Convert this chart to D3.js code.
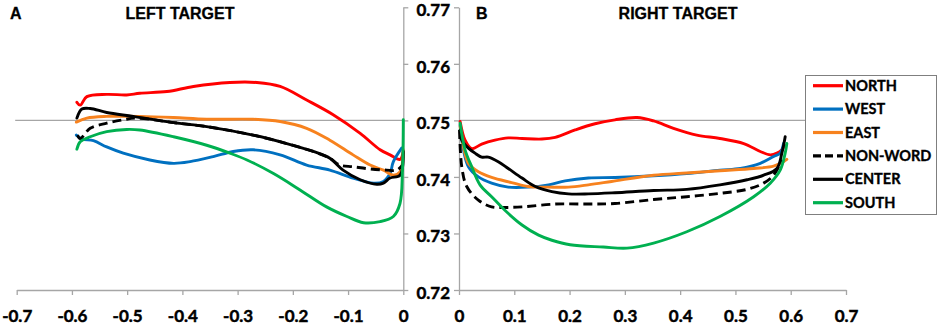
<!DOCTYPE html>
<html><head><meta charset="utf-8">
<script src="https://cdn.jsdelivr.net/npm/d3@7"></script>
<style>body{margin:0;background:#fff}svg{display:block}</style>
</head><body>
<svg id="c" width="945" height="325"></svg>
<script>
// ---- data ----
const seriesNames = ["NORTH","WEST","EAST","NON-WORD","CENTER","SOUTH"];
const seriesColors = ["#ff0000","#0070c0","#f7821e","#000000","#000000","#00b050"];
const seriesDashed = [false,false,false,true,false,false];
const yTicks = [0.72,0.73,0.74,0.75,0.76,0.77];
const leftXTicks = [-0.7,-0.6,-0.5,-0.4,-0.3,-0.2,-0.1,0];
const rightXTicks = [0,0.1,0.2,0.3,0.4,0.5,0.6,0.7];
const referenceValue = 0.75;

const leftNorth = [[-0.591,0.7532],[-0.585,0.7527],[-0.573,0.7542],[-0.537,0.7546],[-0.501,0.7545],[-0.477,0.7548],[-0.428,0.7551],[-0.380,0.7560],[-0.314,0.7567],[-0.265,0.7567],[-0.223,0.7560],[-0.175,0.7536],[-0.127,0.7510],[-0.078,0.7477],[-0.042,0.7448],[-0.024,0.7439],[-0.006,0.7431],[0,0.7445]];
const leftWest = [[-0.592,0.7474],[-0.582,0.7467],[-0.561,0.7464],[-0.537,0.7453],[-0.507,0.7442],[-0.459,0.7430],[-0.416,0.7424],[-0.386,0.7427],[-0.344,0.7436],[-0.308,0.7445],[-0.272,0.7448],[-0.223,0.7439],[-0.175,0.7421],[-0.133,0.7412],[-0.091,0.7398],[-0.054,0.7389],[-0.036,0.7392],[-0.024,0.7406],[-0.018,0.7427],[-0.003,0.7451]];
const leftEast = [[-0.592,0.7497],[-0.573,0.7504],[-0.537,0.7507],[-0.477,0.7507],[-0.416,0.7505],[-0.356,0.7502],[-0.272,0.7502],[-0.223,0.7498],[-0.175,0.7486],[-0.133,0.7465],[-0.091,0.7439],[-0.060,0.7421],[-0.036,0.7412],[-0.018,0.7403],[-0.006,0.7409],[0,0.7448]];
const leftNonWord = [[-0.590,0.7474],[-0.585,0.7468],[-0.567,0.7486],[-0.537,0.7495],[-0.507,0.7501],[-0.483,0.7504],[-0.416,0.7496],[-0.356,0.7489],[-0.272,0.7474],[-0.211,0.7459],[-0.163,0.7445],[-0.133,0.7433],[-0.115,0.7421],[-0.091,0.7418],[-0.060,0.7414],[-0.030,0.7412],[-0.012,0.7412],[-0.001,0.7421]];
const leftCenter = [[-0.591,0.7504],[-0.582,0.7520],[-0.567,0.7521],[-0.537,0.7514],[-0.489,0.7507],[-0.416,0.7496],[-0.356,0.7489],[-0.272,0.7474],[-0.211,0.7459],[-0.163,0.7445],[-0.133,0.7433],[-0.109,0.7412],[-0.078,0.7395],[-0.048,0.7387],[-0.036,0.7389],[-0.024,0.7398],[-0.006,0.7403],[0,0.7445]];
const leftSouth = [[-0.591,0.7449],[-0.585,0.7462],[-0.567,0.7471],[-0.537,0.7480],[-0.501,0.7484],[-0.477,0.7483],[-0.416,0.7471],[-0.356,0.7456],[-0.314,0.7442],[-0.283,0.7430],[-0.235,0.7406],[-0.187,0.7377],[-0.139,0.7347],[-0.102,0.7330],[-0.072,0.7319],[-0.042,0.7321],[-0.018,0.7330],[-0.006,0.7353],[-0.0015,0.7412],[0,0.7501]];

const rightNorth = [[0.002,0.7498],[0.011,0.7465],[0.023,0.7450],[0.041,0.7458],[0.065,0.7465],[0.089,0.7469],[0.114,0.7468],[0.150,0.7467],[0.174,0.7470],[0.210,0.7483],[0.246,0.7494],[0.282,0.7501],[0.322,0.7505],[0.352,0.7499],[0.388,0.7486],[0.430,0.7474],[0.472,0.7468],[0.515,0.7459],[0.545,0.7445],[0.563,0.7439],[0.575,0.7442],[0.584,0.7448],[0.589,0.7456]];
const rightWest = [[0.002,0.7492],[0.008,0.7448],[0.017,0.7418],[0.035,0.7400],[0.059,0.7389],[0.089,0.7382],[0.125,0.7382],[0.162,0.7386],[0.192,0.7393],[0.234,0.7398],[0.282,0.7399],[0.352,0.7402],[0.412,0.7406],[0.472,0.7412],[0.509,0.7415],[0.545,0.7424],[0.569,0.7436],[0.581,0.7442],[0.587,0.7459]];
const rightEast = [[0.002,0.7490],[0.008,0.7453],[0.017,0.7424],[0.035,0.7409],[0.059,0.7399],[0.095,0.7390],[0.125,0.7383],[0.162,0.7382],[0.198,0.7382],[0.234,0.7386],[0.276,0.7392],[0.352,0.7403],[0.412,0.7407],[0.472,0.7411],[0.533,0.7415],[0.569,0.7419],[0.587,0.7427],[0.593,0.7431]];
const rightNonWord = [[0.001,0.7483],[0.005,0.7418],[0.014,0.7383],[0.035,0.7359],[0.059,0.7347],[0.083,0.7346],[0.114,0.7347],[0.174,0.7352],[0.234,0.7352],[0.282,0.7353],[0.352,0.7360],[0.412,0.7365],[0.472,0.7371],[0.521,0.7378],[0.551,0.7389],[0.569,0.7403],[0.584,0.7430]];
const rightCenter = [[0.002,0.7483],[0.005,0.7465],[0.017,0.7451],[0.029,0.7442],[0.041,0.7435],[0.053,0.7435],[0.071,0.7427],[0.089,0.7415],[0.114,0.7398],[0.138,0.7383],[0.168,0.7374],[0.198,0.7370],[0.234,0.7370],[0.282,0.7372],[0.352,0.7376],[0.412,0.7378],[0.472,0.7386],[0.521,0.7395],[0.551,0.7403],[0.575,0.7415],[0.584,0.7442],[0.590,0.7471]];
const rightSouth = [[0.002,0.7495],[0.011,0.7448],[0.023,0.7418],[0.038,0.7386],[0.059,0.7365],[0.083,0.7341],[0.114,0.7315],[0.144,0.7297],[0.168,0.7288],[0.201,0.7280],[0.261,0.7276],[0.304,0.7274],[0.352,0.7283],[0.412,0.7303],[0.472,0.7330],[0.533,0.7365],[0.563,0.7389],[0.581,0.7412],[0.590,0.7442],[0.593,0.7459]];

const leftSeries = [leftNorth,leftWest,leftEast,leftNonWord,leftCenter,leftSouth];
const rightSeries = [rightNorth,rightWest,rightEast,rightNonWord,rightCenter,rightSouth];

// ---- drawing ----
const svg = d3.select("#c");
const axisColor = "#a6a6a6";
const numFont = "Lato, 'Open Sans', sans-serif";
const y = d3.scaleLinear().domain([0.72,0.77]).range([290,7.3]);
const xL = d3.scaleLinear().domain([-0.7,0]).range([16.7,403.3]);
const xR = d3.scaleLinear().domain([0,0.7]).range([459,846]);

// reference line at 0.75
svg.append("line").attr("x1",xL(-0.7)-1.5).attr("x2",xL(0)).attr("y1",y(referenceValue)).attr("y2",y(referenceValue)).attr("stroke",axisColor).attr("stroke-width",1.2);
svg.append("line").attr("x1",xR(0)).attr("x2",xR(0.7)).attr("y1",y(referenceValue)).attr("y2",y(referenceValue)).attr("stroke",axisColor).attr("stroke-width",1.2);

function styleAxis(g){
  g.selectAll("path,line").attr("stroke",axisColor).attr("stroke-width",1.3);
  g.selectAll("text").attr("fill","#000").attr("stroke","#000").attr("stroke-width",0.45)
    .style("font-family",numFont).style("font-weight","bold").style("font-size","17px");
}
const fmt = d => d===0 ? "0" : d3.format(".1f")(d).replace("−","-");
svg.append("g").attr("transform",`translate(0,${y(0.72)})`)
  .call(d3.axisBottom(xL).tickValues(leftXTicks).tickSize(5).tickSizeOuter(0).tickPadding(15).tickFormat(fmt)).call(styleAxis);
svg.append("g").attr("transform",`translate(0,${y(0.72)})`)
  .call(d3.axisBottom(xR).tickValues(rightXTicks).tickSize(5).tickSizeOuter(0).tickPadding(15).tickFormat(fmt)).call(styleAxis);
svg.append("g").attr("transform",`translate(${xL(0)},0)`)
  .call(d3.axisRight(y).tickValues(yTicks).tickSize(5).tickSizeOuter(0).tickFormat("")).call(styleAxis);
const yAxisR = svg.append("g").attr("transform",`translate(${xR(0)},0)`)
  .call(d3.axisLeft(y).tickValues(yTicks).tickSize(5).tickSizeOuter(0).tickPadding(4).tickFormat(d3.format(".2f"))).call(styleAxis);
yAxisR.selectAll("text").attr("dy","0.48em");

// lines
function drawPanel(series, xs){
  const line = d3.line().x(d=>xs(d[0])).y(d=>y(d[1])).curve(d3.curveCatmullRom.alpha(0.5));
  series.forEach((s,i)=>{
    svg.append("path").datum(s).attr("d",line).attr("fill","none")
      .attr("stroke",seriesColors[i]).attr("stroke-width",2.9)
      .attr("stroke-linejoin","round").attr("stroke-linecap", seriesDashed[i] ? "butt" : "round")
      .attr("stroke-dasharray",seriesDashed[i] ? "9,5" : null);
  });
}
drawPanel(leftSeries,xL);
drawPanel(rightSeries,xR);

// titles
const tFont = "'Liberation Sans', Arial, sans-serif";
function title(x, txt, anchor){
  svg.append("text").attr("x",x).attr("y",19).attr("text-anchor",anchor).text(txt)
    .attr("stroke","#000").attr("stroke-width",0.3)
    .style("font-family",tFont).style("font-weight","bold").style("font-size","16px");
}
title(10,"A","start");
title(180,"LEFT TARGET","middle");
title(476,"B","start");
title(678,"RIGHT TARGET","middle");

// legend
const lg = svg.append("g");
lg.append("rect").attr("x",805.5).attr("y",75.5).attr("width",131).attr("height",139).attr("fill","#fff").attr("stroke","#7f7f7f").attr("stroke-width",1);
seriesNames.forEach((n,i)=>{
  const yy = 85.7 + i*23.4;
  lg.append("line").attr("x1",813).attr("x2",843).attr("y1",yy).attr("y2",yy)
    .attr("stroke",seriesColors[i]).attr("stroke-width",3.2)
    .attr("stroke-dasharray",seriesDashed[i] ? "8,4" : null);
  lg.append("text").attr("x",845).attr("y",yy+5).text(n)
    .attr("stroke","#000").attr("stroke-width",0.35)
    .style("font-family",numFont).style("font-weight","bold").style("font-size","14.5px");
});
</script>
</body></html>
